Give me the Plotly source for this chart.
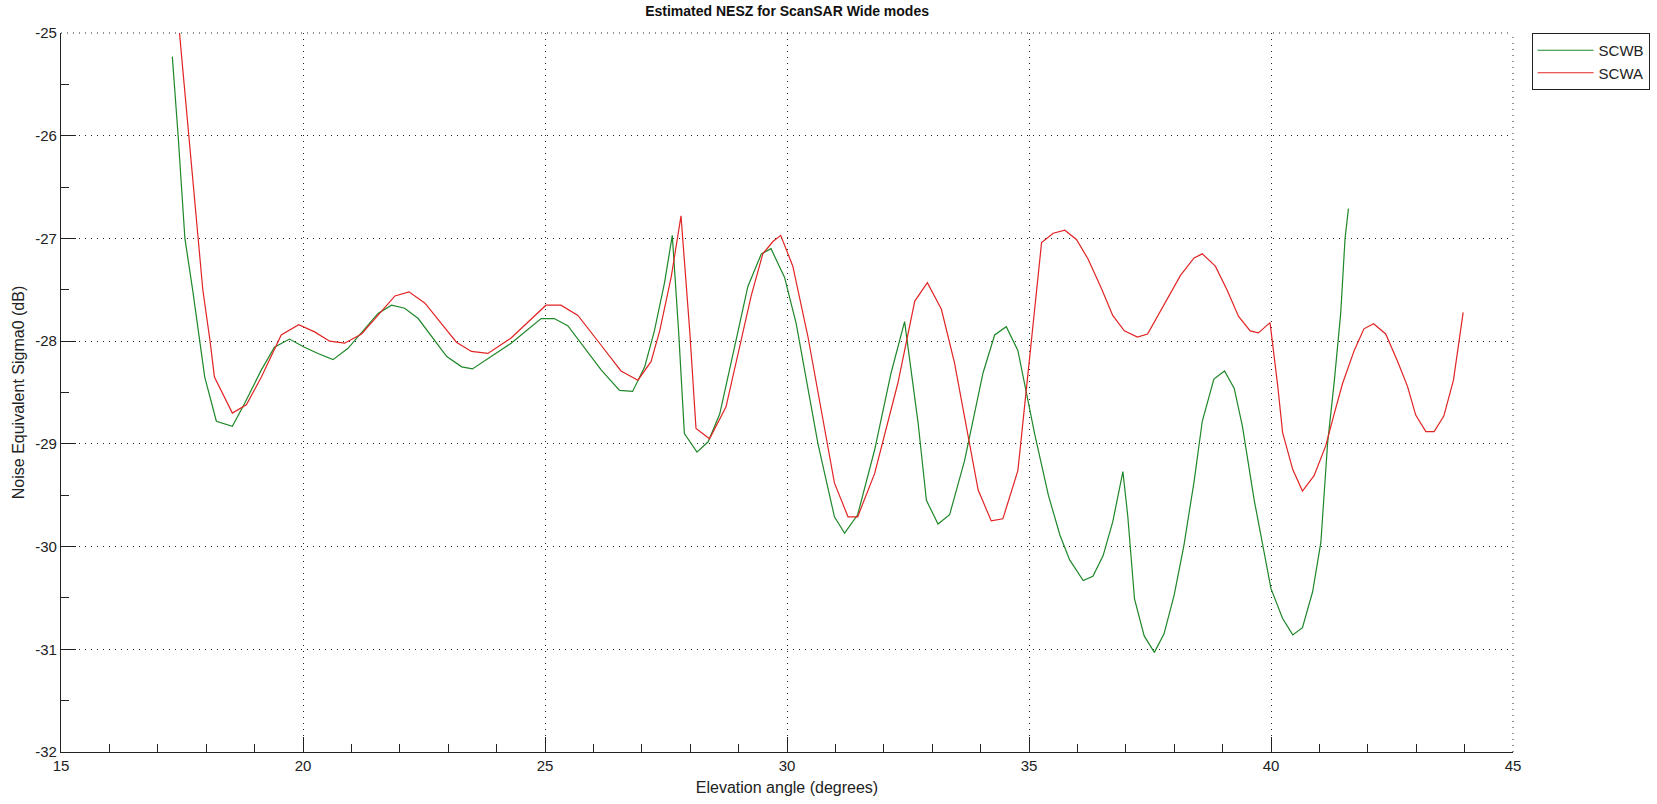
import plotly.graph_objects as go

# Elevation angle (degrees) and estimated NESZ (dB) for the two ScanSAR Wide modes
scwb_angle = [17.30, 17.42, 17.56, 17.72, 17.97, 18.21, 18.54, 18.79, 19.14, 19.41,
              19.72, 20.03, 20.31, 20.62, 20.93, 21.28, 21.55, 21.83, 22.10, 22.38,
              22.66, 22.97, 23.28, 23.50, 24.30, 24.92, 25.19, 25.47, 26.16, 26.54,
              26.81, 27.06, 27.26, 27.47, 27.63, 27.76, 27.88, 28.14, 28.37, 28.61,
              28.99, 29.19, 29.47, 29.67, 29.95, 30.19, 30.64, 30.98, 31.19, 31.46,
              31.81, 32.15, 32.43, 32.71, 32.88, 33.12, 33.36, 33.67, 34.05, 34.29,
              34.53, 34.77, 35.12, 35.40, 35.64, 35.84, 36.12, 36.32, 36.53, 36.73,
              36.94, 37.04, 37.18, 37.38, 37.59, 37.79, 38.00, 38.20, 38.41, 38.58,
              38.82, 39.04, 39.24, 39.41, 39.65, 40.00, 40.24, 40.45, 40.65, 40.86,
              41.03, 41.17, 41.31, 41.44, 41.53, 41.60]
scwb_nesz = [-25.23, -26.00, -27.00, -27.50, -28.35, -28.78, -28.83, -28.61, -28.28, -28.06,
             -27.98, -28.06, -28.12, -28.18, -28.07, -27.88, -27.73, -27.65, -27.68, -27.78,
             -27.96, -28.15, -28.25, -28.27, -28.02, -27.78, -27.78, -27.85, -28.28, -28.48,
             -28.49, -28.25, -27.90, -27.43, -26.97, -27.90, -28.90, -29.08, -28.98, -28.71,
             -27.90, -27.47, -27.15, -27.10, -27.38, -27.83, -29.00, -29.71, -29.87, -29.69,
             -29.06, -28.31, -27.81, -28.80, -29.55, -29.78, -29.69, -29.16, -28.31, -27.94,
             -27.86, -28.09, -28.91, -29.50, -29.89, -30.13, -30.33, -30.29, -30.09, -29.76,
             -29.27, -29.70, -30.51, -30.87, -31.03, -30.85, -30.47, -29.99, -29.37, -28.78,
             -28.37, -28.29, -28.46, -28.83, -29.54, -30.41, -30.70, -30.86, -30.79, -30.44,
             -29.96, -28.99, -28.38, -27.73, -27.00, -26.71]

scwa_angle = [17.40, 17.64, 17.82, 17.93, 18.08, 18.17, 18.54, 18.83, 19.14, 19.55,
              19.91, 20.24, 20.55, 20.86, 21.21, 21.55, 21.90, 22.19, 22.52, 22.86,
              23.17, 23.48, 23.82, 24.30, 25.02, 25.33, 25.68, 26.16, 26.57, 26.92,
              27.19, 27.37, 27.61, 27.81, 27.99, 28.12, 28.40, 28.74, 29.09, 29.26,
              29.50, 29.71, 29.87, 30.12, 30.43, 30.98, 31.26, 31.46, 31.81, 32.29,
              32.64, 32.90, 33.19, 33.46, 33.95, 34.22, 34.46, 34.77, 34.85, 35.02,
              35.26, 35.50, 35.74, 35.98, 36.22, 36.49, 36.73, 36.97, 37.24, 37.45,
              37.79, 38.13, 38.41, 38.58, 38.85, 39.09, 39.33, 39.57, 39.74, 39.98,
              40.14, 40.24, 40.45, 40.65, 40.89, 41.13, 41.31, 41.48, 41.72, 41.92,
              42.12, 42.37, 42.61, 42.82, 42.99, 43.20, 43.37, 43.57, 43.77, 43.88,
              43.97]
scwa_nesz = [-24.75, -26.00, -27.00, -27.50, -28.00, -28.35, -28.70, -28.62, -28.35, -27.94,
             -27.84, -27.91, -28.00, -28.02, -27.93, -27.75, -27.56, -27.52, -27.63, -27.83,
             -28.01, -28.10, -28.12, -27.97, -27.65, -27.65, -27.75, -28.04, -28.29, -28.38,
             -28.20, -27.90, -27.37, -26.78, -27.90, -28.85, -28.95, -28.64, -27.90, -27.56,
             -27.15, -27.03, -26.97, -27.27, -27.95, -29.38, -29.71, -29.71, -29.29, -28.41,
             -27.61, -27.43, -27.69, -28.21, -29.45, -29.75, -29.73, -29.26, -28.90, -28.10,
             -27.04, -26.95, -26.92, -27.01, -27.20, -27.48, -27.75, -27.90, -27.96, -27.93,
             -27.65, -27.36, -27.19, -27.15, -27.27, -27.50, -27.76, -27.90, -27.92, -27.82,
             -28.44, -28.89, -29.25, -29.46, -29.31, -29.02, -28.70, -28.41, -28.09, -27.88,
             -27.83, -27.93, -28.19, -28.44, -28.72, -28.88, -28.88, -28.73, -28.38, -28.02,
             -27.72]

x_ticks = [15, 20, 25, 30, 35, 40, 45]
y_ticks = [-32, -31, -30, -29, -28, -27, -26, -25]

FONT = "Liberation Sans, Arial, sans-serif"
INK = "#222"
DOTS = "1px,5px"

fig = go.Figure()
fig.add_trace(go.Scatter(x=scwb_angle, y=scwb_nesz, mode="lines", name="SCWB",
                         line=dict(color="rgb(30,135,40)", width=1.2)))
fig.add_trace(go.Scatter(x=scwa_angle, y=scwa_nesz, mode="lines", name="SCWA",
                         line=dict(color="rgb(225,35,35)", width=1.2)))

axis_common = dict(
    showline=True, linecolor=INK, linewidth=1.3,
    ticks="inside", ticklen=15, tickwidth=1.3, tickcolor=INK,
    showgrid=True, gridcolor=INK, gridwidth=1, griddash=DOTS,
    zeroline=False, mirror=False,
    tickfont=dict(family=FONT, size=15, color=INK),
)

fig.update_xaxes(
    range=[15, 45], tickvals=x_ticks, ticktext=[str(v) for v in x_ticks],
    minor=dict(dtick=1, tick0=15, ticks="inside", ticklen=8, tickcolor=INK,
               showgrid=False),
    title=dict(text="Elevation angle (degrees)", font=dict(family=FONT, size=16, color=INK),
               standoff=8),
    **axis_common,
)
fig.update_yaxes(
    range=[-32, -25], tickvals=y_ticks, ticktext=[str(v) for v in y_ticks],
    minor=dict(dtick=0.5, tick0=-32, ticks="inside", ticklen=8, tickcolor=INK,
               showgrid=False),
    title=dict(text="Noise Equivalent Sigma0 (dB)", font=dict(family=FONT, size=16, color=INK),
               standoff=6),
    **axis_common,
)

# dotted grid lines along the top and right edges of the axes box
fig.add_shape(type="line", xref="paper", yref="paper", x0=0, x1=1, y0=1, y1=1,
              line=dict(color=INK, width=1, dash=DOTS), layer="below")
fig.add_shape(type="line", xref="paper", yref="paper", x0=1, x1=1, y0=0, y1=1,
              line=dict(color=INK, width=1, dash=DOTS), layer="below")

fig.update_layout(
    width=1657, height=804,
    margin=dict(l=61, r=144, t=33, b=52, autoexpand=False),
    paper_bgcolor="white", plot_bgcolor="white",
    title=dict(text="<b>Estimated NESZ for ScanSAR Wide modes</b>",
               font=dict(family=FONT, size=14, color="#111"),
               x=0.475, xanchor="center", y=0.992, yanchor="top"),
    legend=dict(x=1.0128, y=1.0, xanchor="left", yanchor="top",
                bordercolor=INK, borderwidth=1, bgcolor="white",
                font=dict(family=FONT, size=15, color=INK),
                tracegroupgap=0, itemwidth=56),
    showlegend=True,
)

fig.write_html("out.html")
